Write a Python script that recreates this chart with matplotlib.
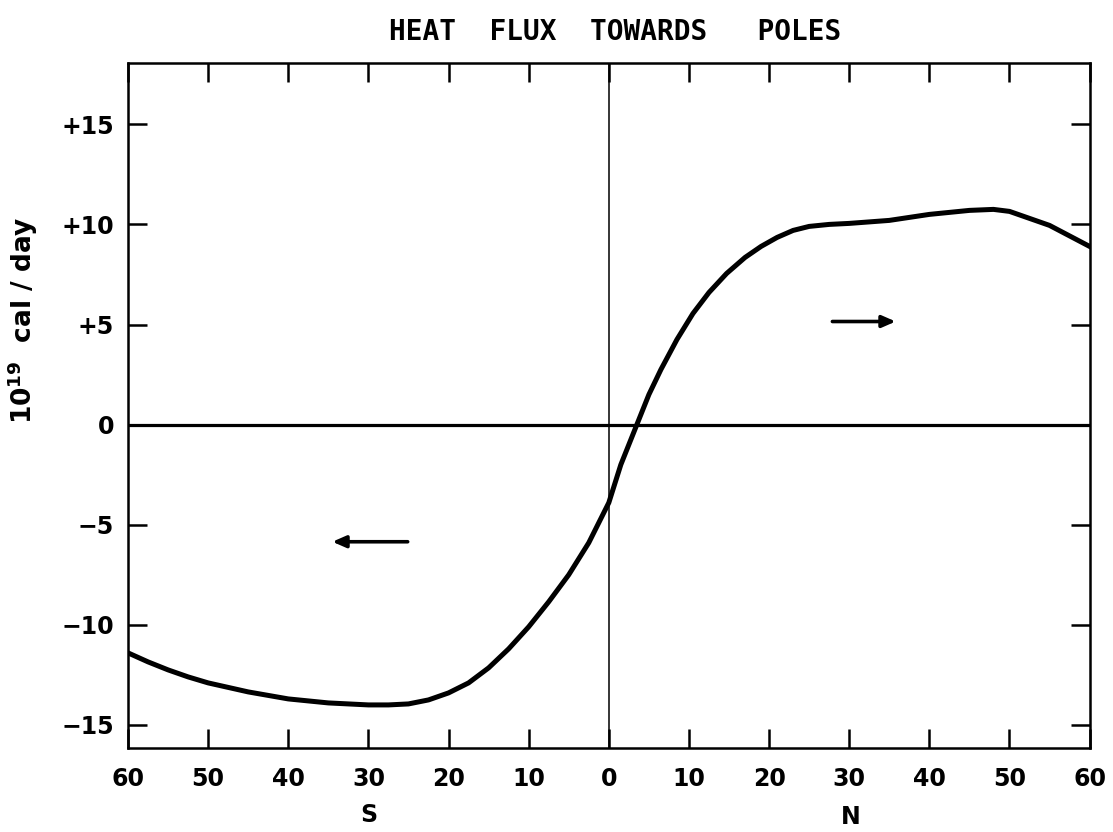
import matplotlib.pyplot as plt
import numpy as np

# latitude (negative = south) and poleward heat flux, 10^19 cal/day
lat = [-60, -57.5, -55, -52.5, -50, -45, -40, -35, -30, -27.5, -25, -22.5,
       -20, -17.5, -15, -12.5, -10, -7.5, -5, -2.5, 0, 1.5, 3.5, 5, 6.5,
       8.5, 10.5, 12.5, 14.7, 17, 19, 21, 23, 25, 27.5, 30, 35, 40, 45, 48,
       50, 55, 60]
flux = [-11.4, -11.85, -12.25, -12.6, -12.9, -13.35, -13.7, -13.9, -14.0,
        -14.0, -13.95, -13.75, -13.4, -12.9, -12.15, -11.2, -10.1, -8.85,
        -7.5, -5.9, -3.9, -2.0, 0.0, 1.5, 2.75, 4.25, 5.55, 6.6, 7.55, 8.35,
        8.9, 9.35, 9.7, 9.9, 10.0, 10.05, 10.2, 10.5, 10.7, 10.75, 10.65,
        9.95, 8.9]

xticks = [-60, -50, -40, -30, -20, -10, 0, 10, 20, 30, 40, 50, 60]
xlabels = ['60', '50', '40', '30', '20', '10', '0', '10', '20', '30', '40', '50', '60']
yticks = [-15, -10, -5, 0, 5, 10, 15]
ylabels = ['\u221215', '\u221210', '\u22125', '0', '+5', '+10', '+15']

# arrows showing direction of flux: (start, end, level)
arrow_s = (-25.1, -34.5, -5.85)
arrow_n = (27.9, 35.8, 5.15)


def main():
    fig = plt.figure(figsize=(11.13, 8.32), dpi=100)
    ax = fig.add_axes([0.115, 0.101, 0.864, 0.823])

    ax.plot(lat, flux, color='black', linewidth=3.6, solid_joinstyle='round')
    ax.axhline(0, color='black', linewidth=2.3)
    ax.axvline(0, color='black', linewidth=1.1)

    for x0, x1, y in (arrow_s, arrow_n):
        ax.annotate('', xy=(x1, y), xytext=(x0, y),
                    arrowprops=dict(arrowstyle='-|>,head_length=0.8,head_width=0.35',
                                    color='black', lw=2.6, shrinkA=0, shrinkB=0))

    ax.set_xlim(-60, 60)
    ax.set_ylim(-16.15, 18.05)

    ax.set_xticks(xticks, labels=xlabels)
    ax.set_yticks(yticks, labels=ylabels)
    ax.tick_params(direction='in', length=14, width=1.8, top=True, right=True,
                   labelsize=17, pad=10)
    ax.tick_params(axis='x', pad=14)
    for lab in ax.get_xticklabels() + ax.get_yticklabels():
        lab.set_fontweight('bold')

    for sp in ax.spines.values():
        sp.set_linewidth(1.8)

    fig.text(0.553, 0.961, 'HEAT  FLUX  TOWARDS   POLES', ha='center', va='center',
             fontsize=20, fontweight='bold', family='DejaVu Sans Mono')
    fig.text(0.02, 0.615, r'$\mathbf{10}^{\mathbf{19}}$  cal / day', rotation=90,
             ha='center', va='center', fontsize=19, fontweight='bold')
    fig.text(0.331, 0.02, 'S', ha='center', va='center', fontsize=17, fontweight='bold')
    fig.text(0.764, 0.018, 'N', ha='center', va='center', fontsize=17, fontweight='bold')

    plt.savefig('out.png', dpi=100)
    plt.close()
    return 0


if __name__ == "__main__":
    main()
